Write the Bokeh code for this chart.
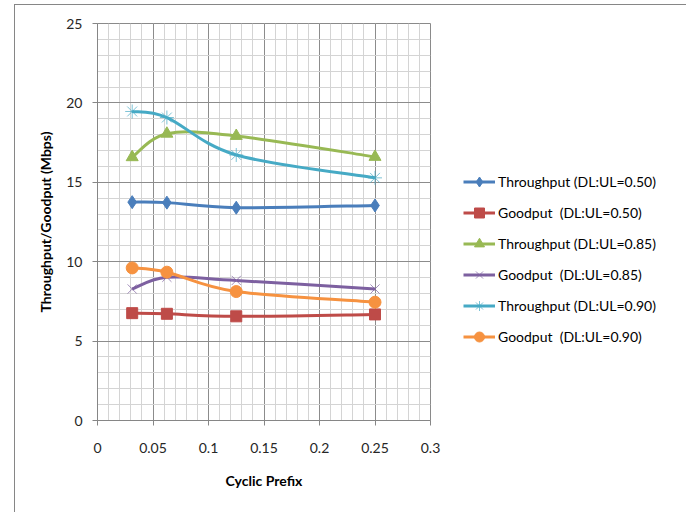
from bokeh.plotting import figure
from bokeh.models import (FixedTicker, SingleIntervalTicker, Legend, LegendItem)
from bokeh.embed import file_html
from bokeh.resources import INLINE

# ---- data ----
cyclic_prefix = [0.03125, 0.0625, 0.125, 0.25]
tp_050 = [13.75, 13.72, 13.40, 13.54]
gp_050 = [6.76, 6.72, 6.56, 6.68]
tp_085 = [16.58, 18.06, 17.92, 16.60]
gp_085 = [8.28, 9.02, 8.82, 8.28]
tp_090 = [19.46, 19.08, 16.72, 15.28]
gp_090 = [9.61, 9.34, 8.12, 7.45]
series_names = ["Throughput (DL:UL=0.50)", "Goodput  (DL:UL=0.50)",
                "Throughput (DL:UL=0.85)", "Goodput  (DL:UL=0.85)",
                "Throughput (DL:UL=0.90)", "Goodput  (DL:UL=0.90)"]
x_ticks = [0, 0.05, 0.1, 0.15, 0.2, 0.25, 0.3]
x_tick_labels = ["0", "0.05", "0.1", "0.15", "0.2", "0.25", "0.3"]
x_title = "Cyclic Prefix"
y_title = "Throughput/Goodput (Mbps)"

FONT = "Lato"

p = figure(frame_width=333, frame_height=397, x_range=(0, 0.3), y_range=(0, 25),
           output_backend="svg", toolbar_location=None,
           min_border_left=82, min_border_right=250, min_border_top=18, min_border_bottom=92)
p.margin = (4, 0, 0, 14)
p.styles = {"border-left": "1px solid #868686", "border-top": "1px solid #868686",
            "border-right": "1px solid #868686"}
p.background_fill_color = "white"
p.border_fill_color = "white"
p.outline_line_color = "#8a8a8a"

minor_x = [i / 100 for i in range(31)]
p.xaxis.ticker = FixedTicker(ticks=x_ticks, minor_ticks=minor_x)
p.yaxis.ticker = SingleIntervalTicker(interval=5, num_minor_ticks=5)
p.xaxis.major_label_overrides = {t: lab for t, lab in zip(x_ticks, x_tick_labels)}

for ax in (p.xaxis[0], p.yaxis[0]):
    ax.axis_line_color = "#868686"
    ax.major_tick_line_color = "#868686"
    ax.major_tick_in = 0
    ax.major_tick_out = 5
    ax.minor_tick_in = 0
    ax.minor_tick_out = 0
    ax.major_label_text_font = FONT
    ax.major_label_text_font_size = "14px"
    ax.major_label_text_color = "#262626"
    ax.axis_label_text_font = FONT
    ax.axis_label_text_font_size = "14px"
    ax.axis_label_text_font_style = "bold"
    ax.axis_label_text_color = "black"
p.xaxis.axis_label = x_title
p.yaxis.axis_label = y_title
p.xaxis.major_label_standoff = 17
p.yaxis.major_label_standoff = 10
p.xaxis.axis_label_standoff = 16
p.yaxis.axis_label_standoff = 9

for g in (p.xgrid[0], p.ygrid[0]):
    g.grid_line_color = "#8c8c8c"
    g.grid_line_width = 1
    g.minor_grid_line_color = "#d4d4d4"
    g.minor_grid_line_width = 1

def bezier_controls(xs, ys):
    n = len(xs)
    seg = dict(x0=[], y0=[], x1=[], y1=[], cx0=[], cy0=[], cx1=[], cy1=[])
    for i in range(n - 1):
        im1 = max(i - 1, 0)
        ip2 = min(i + 2, n - 1)
        seg["x0"].append(xs[i]); seg["y0"].append(ys[i])
        seg["x1"].append(xs[i + 1]); seg["y1"].append(ys[i + 1])
        seg["cx0"].append(xs[i] + (xs[i + 1] - xs[im1]) / 6.0)
        seg["cy0"].append(ys[i] + (ys[i + 1] - ys[im1]) / 6.0)
        seg["cx1"].append(xs[i + 1] - (xs[ip2] - xs[i]) / 6.0)
        seg["cy1"].append(ys[i + 1] - (ys[ip2] - ys[i]) / 6.0)
    return seg

series = [
    (tp_050, "#4A7EBB", "diamond", 13),
    (gp_050, "#BE4B48", "square", 11),
    (tp_085, "#98B954", "triangle", 12),
    (gp_085, "#7D60A0", "x", 13),
    (tp_090, "#46AAC5", "asterisk", 14),
    (gp_090, "#F69240", "circle", 12),
]

items = []
for (ys, color, marker, size), name in zip(series, series_names):
    seg = bezier_controls(cyclic_prefix, ys)
    bz = p.bezier(line_color=color, line_width=3, **seg)
    if marker in ("x", "asterisk"):
        sc = p.scatter(cyclic_prefix, ys, marker=marker, size=size,
                       line_color=color, line_alpha=0.7, line_width=1)
    else:
        sc = p.scatter(cyclic_prefix, ys, marker=marker, size=size,
                       fill_color=color, line_color=color, line_width=1)
    items.append(LegendItem(label=name, renderers=[bz, sc]))

legend = Legend(items=items, location=(33, 71), border_line_alpha=0,
                background_fill_alpha=0, padding=0, margin=0, spacing=6,
                glyph_width=32, glyph_height=25, label_height=25, label_standoff=3,
                label_text_font=FONT, label_text_font_size="14px",
                label_text_color="black")
p.add_layout(legend, "right")

open("out.html", "w").write(file_html(p, INLINE))
